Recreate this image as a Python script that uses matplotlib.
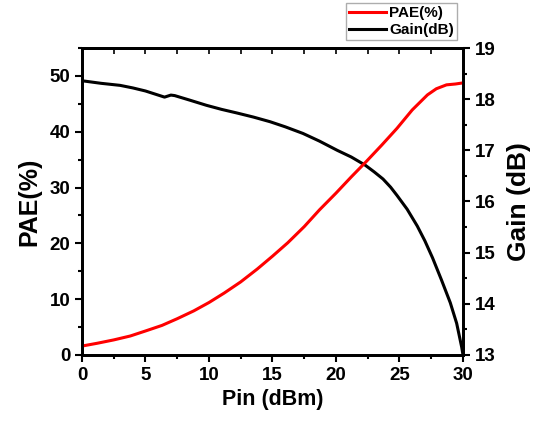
import numpy as np
import matplotlib
matplotlib.use('Agg')
import matplotlib.pyplot as plt
from matplotlib.ticker import MultipleLocator

plt.rcParams['font.family'] = ['Liberation Sans', 'DejaVu Sans']
plt.rcParams['font.weight'] = 'bold'

# PAE (%) vs Pin (dBm)
pin_pae = [0, 1.2, 2.5, 3.8, 5, 6.3, 7.5, 8.8, 10, 11.2, 12.5, 13.8, 15, 16.2, 17.5, 18.7, 20,
           21.2, 22.4, 23.6, 24.8, 26, 27.2, 27.9, 28.7, 29.4, 30]
pae = [1.6, 2.1, 2.7, 3.4, 4.3, 5.3, 6.5, 7.9, 9.4, 11.1, 13.1, 15.4, 17.7, 20.1, 23.0, 26.0, 29.0,
       31.9, 34.7, 37.6, 40.6, 43.9, 46.6, 47.7, 48.4, 48.55, 48.75]

# Gain (dB) vs Pin (dBm)
pin_gain = [0, 1.5, 3, 4, 5, 6, 6.5, 7, 7.3, 8.5, 9.8, 11, 12.2, 13.5, 14.8, 16, 17.4, 18.7, 20.1,
            21.2, 22.3, 23, 23.7, 24.3, 24.8, 25.6, 26.4, 27, 27.6, 28.3, 29, 29.5, 29.9, 30]
gain = [18.36, 18.31, 18.27, 18.22, 18.16, 18.08, 18.04, 18.08, 18.07, 17.98, 17.88, 17.8, 17.73,
        17.65, 17.56, 17.46, 17.33, 17.18, 17.0, 16.87, 16.71, 16.58, 16.44, 16.28, 16.12, 15.85,
        15.52, 15.23, 14.9, 14.47, 14.02, 13.62, 13.15, 13.0]

fig = plt.figure(figsize=(5.44, 4.23), dpi=100)
ax = fig.add_axes([0.1507, 0.1608, 0.7004, 0.7257])
ax2 = ax.twinx()
ax.set_zorder(ax2.get_zorder() + 1)
ax.patch.set_visible(False)

l2, = ax2.plot(pin_gain, gain, color='black', lw=2.2, label='Gain(dB)')
l1, = ax.plot(pin_pae, pae, color='red', lw=2.2, label='PAE(%)')

ax.set_xlim(0, 30)
ax.set_ylim(0, 55)
ax2.set_ylim(13, 19)

ax.xaxis.set_major_locator(MultipleLocator(5))
ax.xaxis.set_minor_locator(MultipleLocator(2.5))
ax.yaxis.set_major_locator(MultipleLocator(10))
ax.yaxis.set_minor_locator(MultipleLocator(5))
ax2.yaxis.set_major_locator(MultipleLocator(1))
ax2.yaxis.set_minor_locator(MultipleLocator(0.5))

ax.tick_params(which='both', direction='out', width=1.5, labelsize=13.5, top=False)
ax.tick_params(which='major', length=5)
ax.tick_params(which='minor', length=3)
ax2.tick_params(which='both', direction='out', width=1.5, labelsize=13.5)
ax2.tick_params(which='major', length=5)
ax2.tick_params(which='minor', length=3)

# inward ticks on top spine
secx = ax.secondary_xaxis('top')
secx.xaxis.set_major_locator(MultipleLocator(2.5))
secx.tick_params(direction='in', length=4, width=1.2, labeltop=False)

for a in (ax, ax2):
    for s in a.spines.values():
        s.set_linewidth(2)
secx.spines['top'].set_linewidth(2)

for lab in ax.get_xticklabels() + ax.get_yticklabels() + ax2.get_yticklabels():
    lab.set_fontweight('bold')

ax.set_xlabel('Pin (dBm)', fontsize=15.5, fontweight='bold', labelpad=4)
ax.set_ylabel('PAE(%)', fontsize=18, fontweight='bold', labelpad=6)
ax2.set_ylabel('Gain (dB)', fontsize=19, fontweight='bold', labelpad=8)

leg = fig.legend([l1, l2], ['PAE(%)', 'Gain(dB)'], loc='upper right',
                 bbox_to_anchor=(0.840, 0.993), borderaxespad=0, fancybox=False,
                 edgecolor='#999999', prop={'weight': 'bold', 'size': 11},
                 handlelength=2.4, handletextpad=0.2, borderpad=0.2, labelspacing=0.2)
leg.get_frame().set_linewidth(1)

fig.savefig('out.png', dpi=100)
